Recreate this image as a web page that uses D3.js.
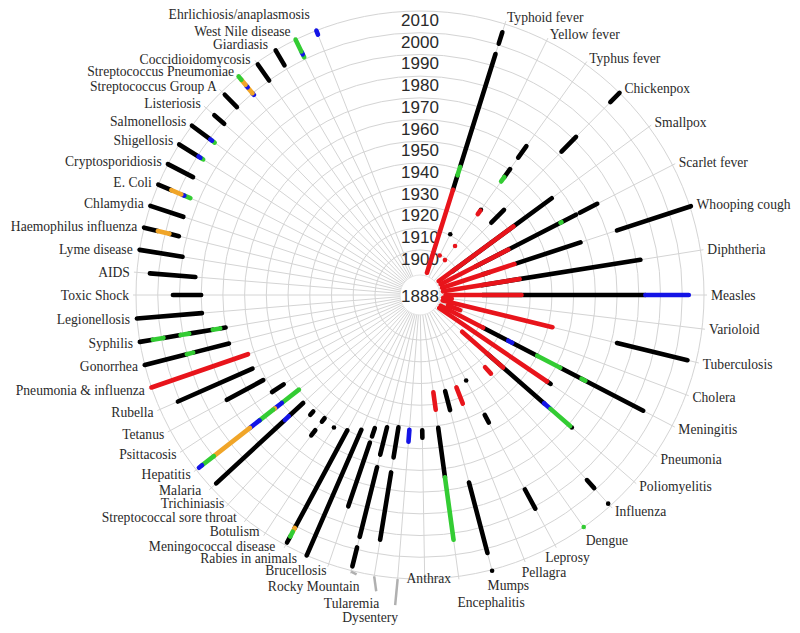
<!DOCTYPE html>
<html><head><meta charset="utf-8">
<script src="https://cdn.jsdelivr.net/npm/d3@7"></script>
<style>body{margin:0;background:#fff}</style>
</head><body>
<svg id="c" width="800" height="633"></svg>
<script>
const diseases = ["Typhoid fever","Yellow fever","Typhus fever","Chickenpox","Smallpox","Scarlet fever","Whooping cough","Diphtheria","Measles","Varioloid","Tuberculosis","Cholera","Meningitis","Pneumonia","Poliomyelitis","Influenza","Dengue","Leprosy","Pellagra","Mumps","Encephalitis","Anthrax","Dysentery","Tularemia","Rocky Mountain","Brucellosis","Rabies in animals","Meningococcal disease","Botulism","Streptococcal sore throat","Trichiniasis","Malaria","Hepatitis","Psittacosis","Tetanus","Rubella","Pneumonia & influenza","Gonorrhea","Syphilis","Legionellosis","Toxic Shock","AIDS","Lyme disease","Haemophilus influenza","Chlamydia","E. Coli","Cryptosporidiosis","Shigellosis","Salmonellosis","Listeriosis","Streptococcus Group A","Streptococcus Pneumoniae","Coccidioidomycosis","Giardiasis","West Nile disease","Ehrlichiosis/anaplasmosis"];
const yearTicks = [1900,1910,1920,1930,1940,1950,1960,1970,1980,1990,2000,2010];
const centerYear = 1888;
// reporting periods: [disease, from, to, source]
const periods = [
 ["Typhoid fever",1890,1930,"r"],["Typhoid fever",1930,1937,"k"],["Typhoid fever",1937,1941,"g"],["Typhoid fever",1941,1995.5,"k"],["Typhoid fever",2000.5,2006,"k"],
 ["Yellow fever",1899.6,1899.6,"r"],["Yellow fever",1910.5,1910.5,"k"],
 ["Typhus fever",1899,1899,"r"],["Typhus fever",1907,1907,"r"],["Typhus fever",1925,1927,"r"],["Typhus fever",1927.5,1927.5,"k"],["Typhus fever",1943.5,1946,"g"],["Typhus fever",1946,1950.5,"k"],["Typhus fever",1957,1963.5,"k"],
 ["Chickenpox",1926,1934.3,"k"],["Chickenpox",1972,1981.5,"k"],["Chickenpox",2004,2010,"k"],
 ["Smallpox",1897.7,1954.5,"k"],["Smallpox",1890,1932.6,"r"],
 ["Scarlet fever",1908,1960,"k"],["Scarlet fever",1952,1952.5,"g"],["Scarlet fever",1962,1971,"k"],["Scarlet fever",1890,1925,"r"],
 ["Whooping cough",1909.5,1913,"k"],["Whooping cough",1926,1957,"k"],["Whooping cough",1974.7,2010.5,"k"],["Whooping cough",1890,1925,"r"],
 ["Diphtheria",1908,1982,"k"],["Diphtheria",1890,1925.7,"r"],
 ["Measles",1908,1983,"k"],["Measles",1983,2003,"b"],["Measles",1891,1926,"r"],
 ["Varioloid",1890,1894,"r"],
 ["Tuberculosis",1972.6,2006,"k"],["Tuberculosis",1890,1942,"r"],
 ["Cholera",1893,1899,"r"],
 ["Meningitis",1912,1925,"k"],["Meningitis",1925,1927,"b"],["Meningitis",1927,1940,"k"],["Meningitis",1940,1952,"g"],["Meningitis",1952,1995,"k"],["Meningitis",1963,1965,"g"],["Meningitis",1890,1912,"r"],
 ["Pneumonia",1950,1952,"k"],["Pneumonia",1890,1950,"r"],
 ["Poliomyelitis",1920,1955,"k"],["Poliomyelitis",1955,1959,"b"],["Poliomyelitis",1959,1971,"g"],["Poliomyelitis",1972,1972,"k"],["Poliomyelitis",1905,1930,"r"],
 ["Influenza",1994,1999,"k"],["Influenza",2008.6,2008.6,"k"],["Influenza",1924,1928,"r"],
 ["Dengue",2010,2010,"g"],
 ["Leprosy",1924,1924,"k"],["Leprosy",1942,1946,"k"],["Leprosy",1981,1991,"k"],
 ["Pellagra",1925,1933,"r"],
 ["Mumps",1925,1934,"k"],["Mumps",1968.5,2002,"k"],["Mumps",2010.5,2010.5,"k"],
 ["Encephalitis",1941,1964,"k"],["Encephalitis",1964,1993,"g"],["Encephalitis",1924.5,1932.6,"r"],
 ["Anthrax",1941.5,1945,"k"],
 ["Dysentery",1941.5,1947,"b"],
 ["Tularemia",1941,1955,"k"],["Tularemia",1962,1993.4,"k"],
 ["Rocky Mountain",1942,1955,"k"],["Rocky Mountain",1961,1994,"k"],["Rocky Mountain",1999,2008,"k"],
 ["Brucellosis",1944,1948,"k"],["Brucellosis",1951,1982,"k"],
 ["Rabies in animals",1947,2010,"k"],
 ["Meningococcal disease",1950,2001,"k"],["Meningococcal disease",2001,2003,"o"],["Meningococcal disease",2003,2005.5,"g"],["Meningococcal disease",2005.5,2008.6,"k"],
 ["Botulism",1952,1952,"k"],
 ["Streptococcal sore throat",1951,1953,"k"],["Streptococcal sore throat",1958,1961,"k"],
 ["Trichiniasis",1952,1954,"k"],
 ["Malaria",1952.5,1961,"k"],["Malaria",1961.5,1964,"b"],["Malaria",1964.5,2007,"k"],
 ["Hepatitis",1950,1960,"g"],["Hepatitis",1960,1964,"b"],["Hepatitis",1964,1965,"o"],["Hepatitis",1965,1973,"g"],["Hepatitis",1973,1978.6,"b"],["Hepatitis",1978.6,1999.7,"o"],["Hepatitis",1999.7,2006.6,"g"],["Hepatitis",2006.6,2008.4,"b"],
 ["Psittacosis",1954.3,1960.7,"k"],
 ["Tetanus",1961.4,1980.4,"k"],
 ["Rubella",1963.5,2001,"k"],
 ["Pneumonia & influenza",1963,2010,"r"],
 ["Gonorrhea",1970,1987,"k"],["Gonorrhea",1987,1990,"g"],["Gonorrhea",1990,2010,"k"],
 ["Syphilis",1970,1972.5,"k"],["Syphilis",1972.5,1976,"g"],["Syphilis",1976,1987,"k"],["Syphilis",1987,1991,"g"],["Syphilis",1991,1999,"k"],["Syphilis",1999,2004,"g"],["Syphilis",2004,2010,"k"],
 ["Legionellosis",1980,2010,"k"],
 ["Toxic Shock",1980,1993,"k"],
 ["AIDS",1983,2004,"k"],
 ["Lyme disease",1990,2010,"k"],
 ["Haemophilus influenza",1993.5,1998,"k"],["Haemophilus influenza",1998,2003.5,"o"],["Haemophilus influenza",2003.5,2010,"k"],
 ["Chlamydia",1994,2010,"k"],
 ["E. Coli",1994,1997,"g"],["E. Coli",1997,1998,"b"],["E. Coli",1998.5,2003.5,"o"],["E. Coli",2003.5,2010,"k"],
 ["Cryptosporidiosis",1997,2010,"k"],
 ["Shigellosis",1997,1998,"g"],["Shigellosis",1998.5,1999.5,"b"],["Shigellosis",2000,2010,"k"],
 ["Salmonellosis",1997,1998,"g"],["Salmonellosis",1998.5,1999.5,"b"],["Salmonellosis",2000,2010,"k"],
 ["Listeriosis",1999,2005,"k"],
 ["Streptococcus Group A",2000,2008,"k"],
 ["Streptococcus Pneumoniae",1999,2000,"b"],["Streptococcus Pneumoniae",2000,2003,"o"],["Streptococcus Pneumoniae",2003.5,2004.5,"b"],["Streptococcus Pneumoniae",2005,2008,"o"],["Streptococcus Pneumoniae",2008,2010,"g"],
 ["Coccidioidomycosis",2000,2009,"k"],
 ["Giardiasis",2002,2010,"k"],
 ["West Nile disease",2001,2002,"g"],["West Nile disease",2002.5,2003.5,"b"],["West Nile disease",2004,2010,"g"],
 ["Ehrlichiosis/anaplasmosis",2008,2010,"b"]
];
const leaderNames = ["Rocky Mountain","Tularemia","Dysentery"];

const svg = d3.select("#c");
const cx = 420, cy = 295;
const rScale = d3.scaleLinear().domain([centerYear, 2010]).range([19, 284]);
const idx = d3.scaleOrdinal().domain(diseases).range(d3.range(diseases.length));
// angular position of each spoke (degrees clockwise from north), piecewise by group
const angleScale = d3.scaleLinear().domain([0, 8, 21, 22, 40, 55]).range([17.4, 90, 179.05, 184.5, 270, 338.6]);
const ang = name => angleScale(idx(name)) * Math.PI / 180;
const color = d3.scaleOrdinal().domain(["k","r","g","b","o"]).range(["#000000","#e8141b","#33cc33","#1414e6","#f0a528"]);
const pt = (a, rr) => [cx + rr * Math.sin(a), cy - rr * Math.cos(a)];

const g = svg.append("g");
// spokes
g.selectAll("line.spoke").data(diseases).join("line")
  .attr("x1", d => pt(ang(d), rScale(centerYear))[0]).attr("y1", d => pt(ang(d), rScale(centerYear))[1])
  .attr("x2", d => pt(ang(d), 287)[0]).attr("y2", d => pt(ang(d), 287)[1])
  .attr("stroke", "#d4d4d4").attr("stroke-width", 1);
// rings
g.selectAll("circle.ring").data(yearTicks).join("circle")
  .attr("cx", cx).attr("cy", cy).attr("r", d => rScale(d))
  .attr("fill", "none").attr("stroke", "#d4d4d4").attr("stroke-width", 1);

// label placement
const labelR = 291;
const nudge = {"Ehrlichiosis/anaplasmosis":[-4,-10],"West Nile disease":[-2,-2],"Giardiasis":[-4,0],"Coccidioidomycosis":[-2,2],"Dengue":[-2,7],"Leprosy":[-13,6],"Pellagra":[-5,6],"Mumps":[-6,9],"Encephalitis":[-2,19],
  "Anthrax":[4,-8],"Dysentery":[1,32],"Tularemia":[6,21],"Rocky Mountain":[10,9],"Rabies in animals":[-7,-4],
  "Meningococcal disease":[-7,-5],"Botulism":[-2,-8],"Streptococcal sore throat":[-5,-8],"Trichiniasis":[1,-6],"Malaria":[-5,-2]};
const labelPos = d => { const p = pt(ang(d), labelR), n = nudge[d] || [0,0]; return [p[0] + n[0], p[1] + n[1]]; };

// leader lines
g.selectAll("line.leader").data(leaderNames).join("line")
  .attr("x1", d => pt(ang(d), 285)[0]).attr("y1", d => pt(ang(d), 285)[1])
  .attr("x2", d => labelPos(d)[0] - 3).attr("y2", d => labelPos(d)[1] - 12)
  .attr("stroke", "#b0b0b0").attr("stroke-width", 2.5);
// center
g.append("circle").attr("cx", cx).attr("cy", cy).attr("r", rScale(centerYear) + 1)
  .attr("fill", "#fff").attr("stroke", "#e4e4e4");
g.append("text").attr("x", cx).attr("y", cy + 7).attr("text-anchor", "middle")
  .attr("font-family", "Liberation Sans, Arial, sans-serif").attr("font-size", 17).attr("fill", "#2a2a2a").text(centerYear);
// year labels
g.selectAll("text.year").data(yearTicks).join("text")
  .attr("x", cx).attr("y", d => cy - rScale(d) + 15).attr("text-anchor", "middle")
  .attr("font-family", "Liberation Sans, Arial, sans-serif").attr("font-size", 17).attr("fill", "#2a2a2a").text(d => d);

// data segments (red source on top)
const order = {k:0,g:1,b:1,o:1,r:2};
const segs = periods.slice().sort((a,b) => order[a[3]] - order[b[3]]);
g.selectAll("line.seg").data(segs).join("line")
  .attr("x1", d => pt(ang(d[0]), rScale(d[1]))[0]).attr("y1", d => pt(ang(d[0]), rScale(d[1]))[1])
  .attr("x2", d => pt(ang(d[0]), rScale(d[2]))[0]).attr("y2", d => pt(ang(d[0]), rScale(d[2]))[1])
  .attr("stroke", d => color(d[3])).attr("stroke-width", 4.6).attr("stroke-linecap", "round");

// labels
g.selectAll("text.lab").data(diseases).join("text")
  .attr("x", d => labelPos(d)[0]).attr("y", d => labelPos(d)[1])
  .attr("dy", "0.35em")
  .attr("text-anchor", d => { const a = angleScale(idx(d)); return Math.abs(a - 180) < 2 ? "middle" : (a < 180 ? "start" : "end"); })
  .attr("font-family", "Liberation Serif, Times New Roman, serif").attr("font-size", 13.6).attr("fill", "#2a2a2a")
  .text(d => d);
</script>
</body></html>
